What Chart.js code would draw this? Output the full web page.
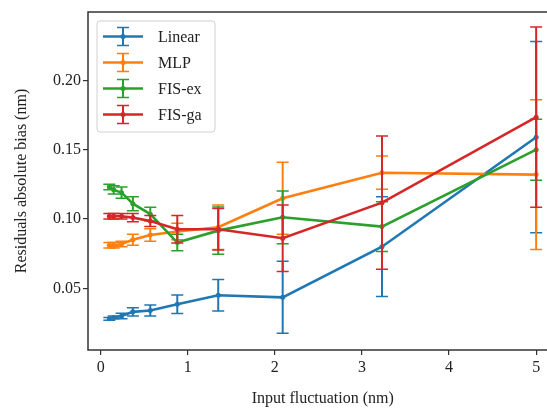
<!DOCTYPE html>
<html>
<head>
<meta charset="utf-8">
<script src="https://cdn.jsdelivr.net/npm/chart.js@4.4.1/dist/chart.umd.min.js"></script>
<style>
  html, body { margin: 0; padding: 0; background: #fff; overflow: hidden; }
  #wrap { width: 560px; height: 410px; }
</style>
</head>
<body>
<div id="wrap"><canvas id="biasChart" width="560" height="410"></canvas></div>
<script>
// ── Data ─────────────────────────────────────────────────────────────
const fluctuation = [0.1, 0.15, 0.24, 0.37, 0.57, 0.88, 1.35, 2.09, 3.23, 5.0];

const linearBias = [0.028, 0.029, 0.030, 0.033, 0.034, 0.0385, 0.045, 0.0435, 0.080, 0.159];
const linearErr  = [0.001, 0.001, 0.002, 0.003, 0.004, 0.0067, 0.0114, 0.026, 0.036, 0.069];

const mlpBias = [0.081, 0.081, 0.082, 0.085, 0.0885, 0.091, 0.094, 0.115, 0.1334, 0.132];
const mlpErr  = [0.002, 0.002, 0.002, 0.004, 0.0045, 0.006, 0.016, 0.026, 0.012, 0.054];

const fisExBias = [0.123, 0.121, 0.119, 0.111, 0.1035, 0.083, 0.0916, 0.1012, 0.0945, 0.150];
const fisExErr  = [0.002, 0.003, 0.004, 0.005, 0.005, 0.006, 0.017, 0.019, 0.018, 0.022];

const fisGaBias = [0.102, 0.102, 0.102, 0.101, 0.0985, 0.0926, 0.0926, 0.0861, 0.1118, 0.1734];
const fisGaErr  = [0.002, 0.002, 0.002, 0.003, 0.004, 0.010, 0.015, 0.024, 0.048, 0.065];

const seriesNames = ['Linear', 'MLP', 'FIS-ex', 'FIS-ga'];
const xTicks = [0, 1, 2, 3, 4, 5];
const yTicks = [0.05, 0.10, 0.15, 0.20];

// ── Look ─────────────────────────────────────────────────────────────
const colors = ['#1f77b4', '#ff7f0e', '#2ca02c', '#d62728'];
const serif  = "'Liberation Serif', 'DejaVu Serif', serif";
const ink    = '#222';

const series = [
  { bias: linearBias, err: linearErr },
  { bias: mlpBias,    err: mlpErr },
  { bias: fisExBias,  err: fisExErr },
  { bias: fisGaBias,  err: fisGaErr },
];

// ── Error bars, drawn right after each dataset so layering matches ───
const errorBarPlugin = {
  id: 'errorBars',
  afterDatasetDraw(chart, args) {
    const ds = chart.data.datasets[args.index];
    const xs = chart.scales.x, ys = chart.scales.y;
    const ctx = chart.ctx;
    ctx.save();
    ctx.strokeStyle = ds.borderColor;
    ds.data.forEach((p, i) => {
      const px  = xs.getPixelForValue(p.x);
      const top = ys.getPixelForValue(p.y + ds.errors[i]);
      const bot = ys.getPixelForValue(p.y - ds.errors[i]);
      ctx.lineWidth = 2;
      ctx.beginPath();
      ctx.moveTo(px, top);
      ctx.lineTo(px, bot);
      ctx.stroke();
      ctx.lineWidth = 1.5;
      ctx.beginPath();
      ctx.moveTo(px - 6, top); ctx.lineTo(px + 6, top);
      ctx.moveTo(px - 6, bot); ctx.lineTo(px + 6, bot);
      ctx.stroke();
    });
    ctx.restore();
  },
};

// ── Full frame (top/right spines too) ────────────────────────────────
const framePlugin = {
  id: 'frame',
  afterDatasetsDraw(chart) {
    const { ctx, chartArea: a } = chart;
    ctx.save();
    ctx.strokeStyle = '#333';
    ctx.lineWidth = 1.5;
    ctx.strokeRect(a.left, a.top, a.right - a.left, a.bottom - a.top);
    ctx.restore();
  },
};

// ── Matplotlib-style legend box with errorbar handles ───────────────
const legendPlugin = {
  id: 'mplLegend',
  afterDraw(chart) {
    const { ctx, chartArea: a } = chart;
    const bx = a.left + 9, by = a.top + 9, bw = 118, bh = 111;
    ctx.save();
    ctx.beginPath();
    ctx.roundRect(bx, by, bw, bh, 3);
    ctx.fillStyle = 'rgba(255,255,255,0.8)';
    ctx.fill();
    ctx.strokeStyle = '#d0d0d0';
    ctx.lineWidth = 1;
    ctx.stroke();

    chart.data.datasets.forEach((ds, i) => {
      const cy = by + 15.5 + i * 26;
      const x0 = bx + 6, x1 = bx + 46, cx = (x0 + x1) / 2;
      ctx.strokeStyle = ds.borderColor;
      ctx.lineWidth = 2.5;
      ctx.beginPath(); ctx.moveTo(x0, cy); ctx.lineTo(x1, cy); ctx.stroke();
      ctx.lineWidth = 2;
      ctx.beginPath(); ctx.moveTo(cx, cy - 9); ctx.lineTo(cx, cy + 9); ctx.stroke();
      ctx.lineWidth = 1.5;
      ctx.beginPath();
      ctx.moveTo(cx - 6, cy - 9); ctx.lineTo(cx + 6, cy - 9);
      ctx.moveTo(cx - 6, cy + 9); ctx.lineTo(cx + 6, cy + 9);
      ctx.stroke();
      ctx.fillStyle = ds.borderColor;
      ctx.beginPath(); ctx.arc(cx, cy, 2.5, 0, Math.PI * 2); ctx.fill();

      ctx.fillStyle = ink;
      ctx.font = '16px ' + serif;
      ctx.textBaseline = 'middle';
      ctx.fillText(ds.label, bx + 61, cy + 1);
    });
    ctx.restore();
  },
};

// ── Chart ────────────────────────────────────────────────────────────
const datasets = series.map((s, k) => ({
  label: seriesNames[k],
  data: fluctuation.map((x, i) => ({ x, y: s.bias[i] })),
  errors: s.err,
  showLine: true,
  borderColor: colors[k],
  backgroundColor: colors[k],
  borderWidth: 2.6,
  pointRadius: 2.5,
  pointBorderWidth: 0,
  pointHoverRadius: 2.5,
  order: series.length - 1 - k, // later series drawn on top, like matplotlib
}));

new Chart(document.getElementById('biasChart'), {
  type: 'scatter',
  data: { datasets },
  plugins: [errorBarPlugin, framePlugin, legendPlugin],
  options: {
    responsive: false,
    devicePixelRatio: 1,
    animation: false,
    layout: { padding: { top: 12, right: 2, left: 0, bottom: 0 } },
    plugins: { legend: { display: false }, tooltip: { enabled: false } },
    scales: {
      x: {
        type: 'linear',
        min: -0.145,
        max: 5.245,
        afterBuildTicks: scale => { scale.ticks = xTicks.map(v => ({ value: v })); },
        afterFit: scale => { scale.height = 60; },
        border: { display: false },
        grid: { drawOnChartArea: false, drawTicks: true, tickLength: 5, color: '#333', lineWidth: 1.2 },
        ticks: { color: ink, font: { family: serif, size: 16 }, padding: 3, callback: v => String(v) },
        title: { display: true, text: 'Input fluctuation (nm)', color: ink, font: { family: serif, size: 16 }, padding: { top: 2, bottom: 2 } },
      },
      y: {
        type: 'linear',
        min: 0.0055,
        max: 0.2493,
        afterBuildTicks: scale => { scale.ticks = yTicks.map(v => ({ value: v })); },
        afterFit: scale => { scale.width = 88; },
        border: { display: false },
        grid: { drawOnChartArea: false, drawTicks: true, tickLength: 5, color: '#333', lineWidth: 1.2 },
        ticks: { color: ink, font: { family: serif, size: 16 }, padding: 2, callback: v => v.toFixed(2) },
        title: { display: true, text: 'Residuals absolute bias (nm)', color: ink, font: { family: serif, size: 16 }, padding: { top: 12, bottom: 4 } },
      },
    },
  },
});
</script>
</body>
</html>
